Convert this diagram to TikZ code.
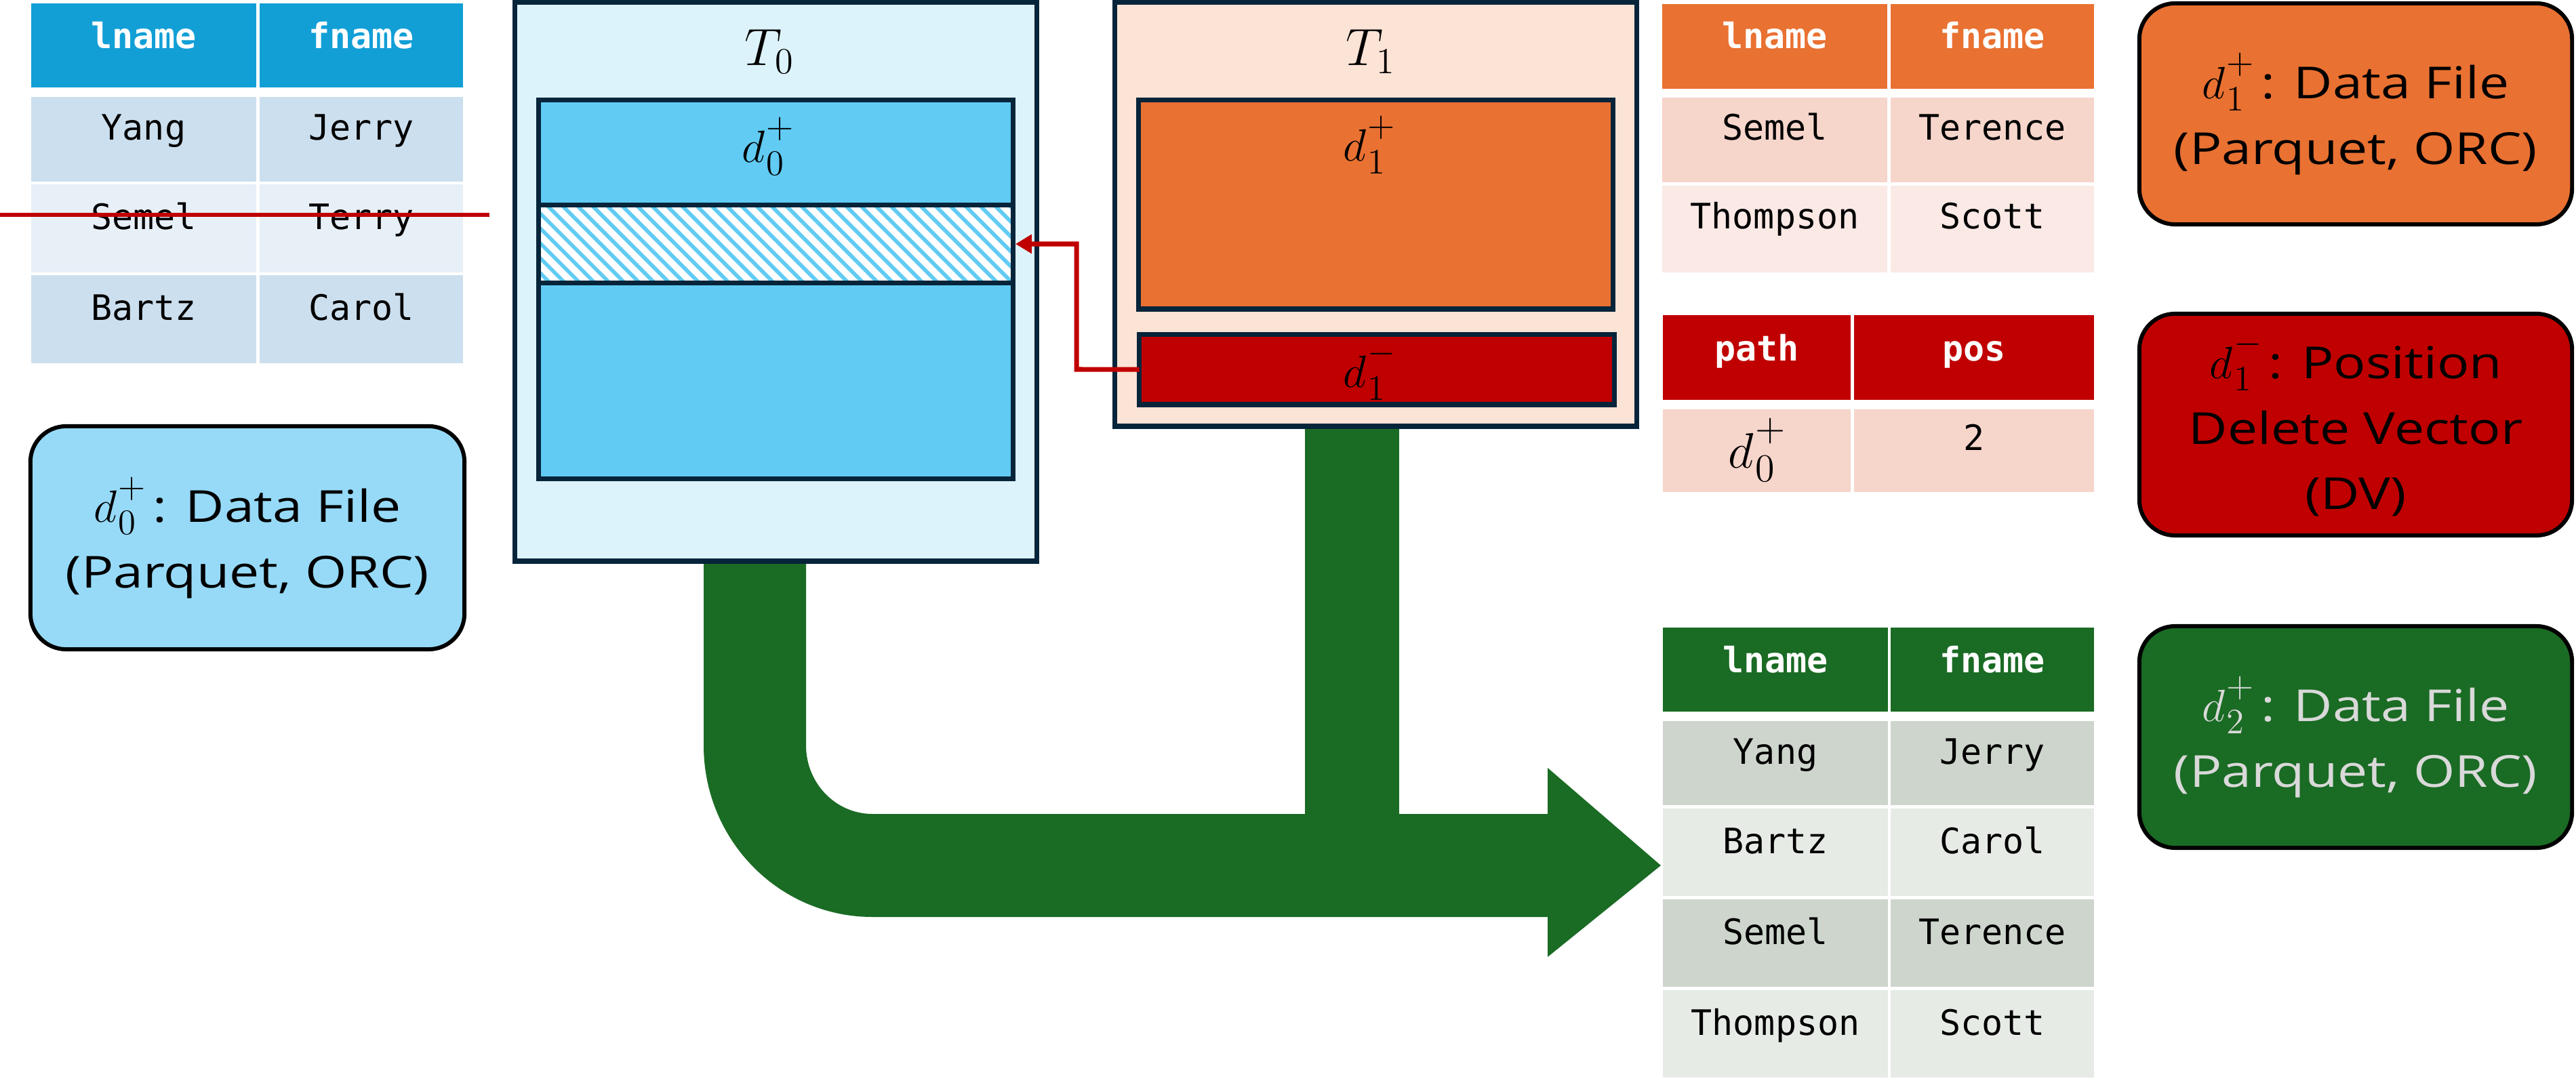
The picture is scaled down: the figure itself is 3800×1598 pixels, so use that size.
\RequirePackage{fix-cm}
\documentclass[tikz,border=0pt]{standalone}
\usepackage[no-math]{fontspec}
\newfontfamily\boxfont[FakeStretch=1.21]{Open Sans}
\newfontfamily\tabfont{DejaVu Sans Mono}
\usetikzlibrary{fit,arrows.meta}
\definecolor{navy}{HTML}{06243A}
\definecolor{tzfill}{HTML}{DCF3FB}
\definecolor{dzfill}{HTML}{61CBF3}
\definecolor{tofill}{HTML}{FBE3D6}
\definecolor{orng}{HTML}{E97132}
\definecolor{dred}{HTML}{C00000}
\definecolor{grn}{HTML}{1A6B24}
\definecolor{lbox}{HTML}{97DAF7}
\definecolor{bluehd}{HTML}{129FD6}
\definecolor{bluea}{HTML}{CCDFEE}
\definecolor{blueb}{HTML}{E7EFF7}
\definecolor{pinka}{HTML}{F6D5CB}
\definecolor{pinkb}{HTML}{FAE9E5}
\definecolor{grna}{HTML}{CDD5CC}
\definecolor{grnb}{HTML}{E6EBE6}
\definecolor{lgray}{HTML}{D9D9D9}
\newcommand\hdr{\color{white}\tabfont\bfseries\fontsize{14.7}{17}\selectfont}
\newcommand\cel{\color{black}\tabfont\fontsize{14.7}{17}\selectfont}
% d with sub/superscript placed like the reference (large scripts)
\newcommand\dlab[2]{{\fontsize{19}{27.5}\selectfont$d$\kern0.03em%
  \ooalign{\raisebox{0.55em}{\fontsize{15}{15}\selectfont$#2$}\cr
           \raisebox{-0.27em}{\fontsize{15}{15}\selectfont$#1$}\cr}}}
% name, x1, y1, x2, y2, fill, baseline offset, text
\newcommand\cell[8]{%
  \node[cellbox, fill=#6, fit={(#2,#3) (#4,#5)}] (#1) {};
  \node[lab] (#1t) at ({(#2+#4)/2},{#3+#7}) {#8};
}
\begin{document}
\begin{tikzpicture}[x=0.01cm,y=-0.01cm,
  frame/.style={draw=navy, line width=2pt, inner sep=0pt, outer sep=0pt},
  rbox/.style={draw=black, line width=1.7pt, rounded corners=15pt, align=center,
    inner sep=0pt, outer sep=0pt, font=\boxfont\fontsize{18.5}{27.5}\selectfont},
  lab/.style={anchor=base, inner sep=0pt, outer sep=0pt},
  cellbox/.style={inner sep=0pt, outer sep=0pt},
  dvarrow/.style={draw=dred, line width=2pt, -{Triangle[length=6.8pt,width=7.7pt]}},
  strike/.style={draw=dred, line width=1.9pt}
]
\useasboundingbox (0,0) rectangle (3800,1598);
\fill[white] (0,0) rectangle (3800,1598);

% green merge arrow
\fill[grn] (1038,826) -- (1038,1100)
  arc[start angle=180,end angle=90,x radius=249,y radius=253]
  -- (2283,1353) -- (2283,1412) -- (2450,1277) -- (2283,1133) -- (2283,1201)
  -- (1287,1201) arc[start angle=90,end angle=180,x radius=98,y radius=101]
  -- (1189,826) -- cycle;
\fill[grn] (1925,626) rectangle (2064,1210);

% T0
\node[frame, fill=tzfill, fit={(759.5,3.5) (1529.5,828)}] (T0) {};
\node[frame, fill=dzfill, fit={(794.5,147.5) (1494.5,706.5)}] (d0) {};
\fill[white] (797.5,306) rectangle (1491.5,414);
\begin{scope}
  \clip (797.5,306) rectangle (1491.5,414);
  \foreach \i in {0,...,40} {
    \draw[dzfill, line width=1.6pt] ({640+22*\i},290) -- ++(140,140);
  }
\end{scope}
\node[frame, fit={(794.5,302.5) (1494.5,417.5)}] (del) {};
\node[lab, font=\fontsize{22}{26}\selectfont] (T0l) at (1135,97) {$T_0$};
\node[lab] (d0l) at (1133,240) {\dlab{0}{+}};

% T1
\node[frame, fill=tofill, fit={(1644.5,3.5) (2414.5,629)}] (T1) {};
\node[frame, fill=orng, fit={(1679.5,147.5) (2379.5,456)}] (d1p) {};
\node[frame, fill=dred, fit={(1680.5,493.5) (2381.5,597)}] (d1m) {};
\node[lab, font=\fontsize{22}{26}\selectfont] (T1l) at (2022,97) {$T_1$};
\node[lab] (d1pl) at (2020,238) {\dlab{1}{+}};
\node[lab] (d1ml) at (2020,572) {\dlab{1}{-}};

% delete-vector pointer
\draw[dvarrow] (d1m.west) -- (1588,545) |- ([xshift=1pt]del.east);

% blue table
\cell{ba1}{46}{5}{378}{129}{bluehd}{67}{\hdr lname}
\cell{ba2}{383}{5}{683}{129}{bluehd}{67}{\hdr fname}
\cell{bb1}{46}{143}{378}{268}{bluea}{64}{\cel Yang}
\cell{bb2}{383}{143}{683}{268}{bluea}{64}{\cel Jerry}
\cell{bc1}{46}{272}{378}{402}{blueb}{67}{\cel Semel}
\cell{bc2}{383}{272}{683}{402}{blueb}{67}{\cel Terry}
\cell{bd1}{46}{406}{378}{536}{bluea}{67}{\cel Bartz}
\cell{bd2}{383}{406}{683}{536}{bluea}{67}{\cel Carol}
\coordinate (sA) at (0,317);
\coordinate (sB) at (722,317);
\draw[strike] (sA) -- (sB);

% orange table
\cell{oa1}{2452}{6}{2784}{131}{orng}{66}{\hdr lname}
\cell{oa2}{2789}{6}{3089}{131}{orng}{66}{\hdr fname}
\cell{ob1}{2452}{144}{2784}{269}{pinka}{63}{\cel Semel}
\cell{ob2}{2789}{144}{3089}{269}{pinka}{63}{\cel Terence}
\cell{oc1}{2452}{274}{2784}{402}{pinkb}{64}{\cel Thompson}
\cell{oc2}{2789}{274}{3089}{402}{pinkb}{64}{\cel Scott}

% DV table
\cell{ra1}{2453}{465}{2730}{590}{dred}{68}{\hdr path}
\cell{ra2}{2735}{465}{3089}{590}{dred}{68}{\hdr pos}
\cell{rb1}{2453}{604}{2730}{726}{pinka}{87}{\scalebox{1.1}{\dlab{0}{+}}}
\cell{rb2}{2735}{604}{3089}{726}{pinka}{61}{\cel 2}

% green table
\cell{ga1}{2453}{926}{2785}{1050}{grn}{66}{\hdr lname}
\cell{ga2}{2789}{926}{3089}{1050}{grn}{66}{\hdr fname}
\cell{gb1}{2453}{1064}{2785}{1188}{grna}{63}{\cel Yang}
\cell{gb2}{2789}{1064}{3089}{1188}{grna}{63}{\cel Jerry}
\cell{gc1}{2453}{1193}{2785}{1322}{grnb}{66}{\cel Bartz}
\cell{gc2}{2789}{1193}{3089}{1322}{grnb}{66}{\cel Carol}
\cell{gd1}{2453}{1327}{2785}{1456}{grna}{66}{\cel Semel}
\cell{gd2}{2789}{1327}{3089}{1456}{grna}{66}{\cel Terence}
\cell{ge1}{2453}{1461}{2785}{1590}{grnb}{66}{\cel Thompson}
\cell{ge2}{2789}{1461}{3089}{1590}{grnb}{66}{\cel Scott}

% legend boxes
\node[rbox, fill=lbox, minimum width=6.40cm, minimum height=3.29cm] (L0) at (365,793.5)
  {\dlab{0}{+}\,: Data File\\(Parquet, ORC)};
\node[rbox, fill=orng, minimum width=6.38cm, minimum height=3.26cm] (L1) at (3475,168)
  {\dlab{1}{+}\,: Data File\\(Parquet, ORC)};
\node[rbox, fill=dred, minimum width=6.38cm, minimum height=3.27cm] (L2) at (3475,626.5)
  {\dlab{1}{-}\,: Position\\Delete Vector\\(DV)};
\node[rbox, fill=grn, text=lgray, minimum width=6.38cm, minimum height=3.27cm] (L3) at (3475,1087.5)
  {\dlab{2}{+}\,: Data File\\(Parquet, ORC)};
\end{tikzpicture}
\end{document}
